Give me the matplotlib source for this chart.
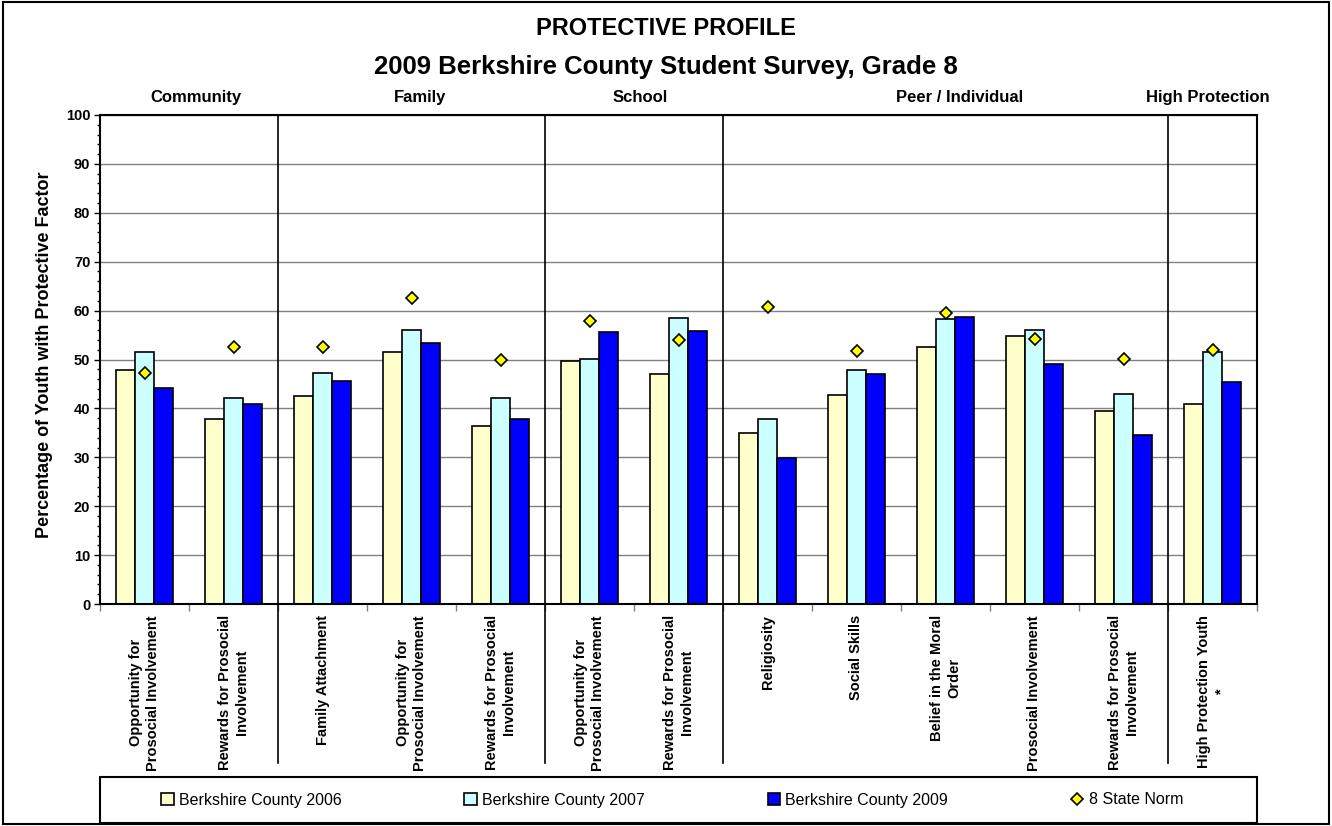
import matplotlib
matplotlib.use("Agg")
import matplotlib.pyplot as plt
from matplotlib.lines import Line2D
from matplotlib.patches import Patch, Rectangle
import numpy as np

plt.rcParams['font.family'] = ['Liberation Sans', 'DejaVu Sans']

labels = ["Opportunity for\nProsocial Involvement",
          "Rewards for Prosocial\nInvolvement",
          "Family Attachment",
          "Opportunity for\nProsocial Involvement",
          "Rewards for Prosocial\nInvolvement",
          "Opportunity for\nProsocial Involvement",
          "Rewards for Prosocial\nInvolvement",
          "Religiosity",
          "Social Skills",
          "Belief in the Moral\nOrder",
          "Prosocial Involvement",
          "Rewards for Prosocial\nInvolvement",
          "High Protection Youth\n*"]

groups = ["Community", "Family", "School", "Peer / Individual", "High Protection"]
group_sizes = [2, 3, 2, 5, 1]

y2006 = [47.9, 37.8, 42.6, 51.6, 36.5, 49.6, 47.1, 35.0, 42.7, 52.6, 54.8, 39.5, 40.8]
y2007 = [51.6, 42.1, 47.3, 56.0, 42.2, 50.2, 58.5, 37.8, 47.8, 58.3, 56.1, 42.9, 51.5]
y2009 = [44.2, 41.0, 45.7, 53.3, 37.9, 55.6, 55.9, 29.9, 47.1, 58.6, 49.0, 34.6, 45.4]
norm = [47.2, 52.6, 52.6, 62.5, 49.8, 57.8, 53.9, 60.7, 51.8, 59.6, 54.2, 50.1, 51.9]

series = ["Berkshire County 2006", "Berkshire County 2007", "Berkshire County 2009"]
colors = ["#FFFFCC", "#CCFFFF", "#0000FF"]

fig = plt.figure(figsize=(13.32, 8.26), dpi=100)
ax = fig.add_axes([100/1332, 1-604/826, 1157/1332, 489/826])

x = np.arange(len(labels))
w = 0.214
for k, vals in enumerate([y2006, y2007, y2009]):
    ax.bar(x + (k-1)*w, vals, w, color=colors[k], edgecolor='black', linewidth=1.2, zorder=3)
ax.plot(x, norm, linestyle='none', marker='D', markersize=6.5, markerfacecolor='#FFFF00',
        markeredgecolor='black', markeredgewidth=1.2, zorder=4)

ax.set_xlim(-0.5, len(labels)-0.5)
ax.set_ylim(0, 100)
ax.set_yticks(range(0, 101, 10))
ax.set_yticks(range(0, 101, 2), minor=True)
ax.yaxis.grid(True, which='major', color='#808080', linewidth=1.0, zorder=0)
ax.tick_params(axis='y', which='major', length=4, width=1, pad=3, labelsize=10.5)
ax.tick_params(axis='y', which='minor', length=2.5, width=1)
for t in ax.get_yticklabels():
    t.set_fontweight('bold')

ax.set_xticks(x)
ax.set_xticklabels(labels, rotation=90, fontsize=10.5, fontweight='bold',
                   multialignment='center', linespacing=1.3)
ax.set_xticks(np.arange(-0.5, len(labels), 1.0), minor=True)
ax.tick_params(axis='x', which='major', length=0, pad=8)
ax.tick_params(axis='x', which='minor', length=5, width=1, color='#808080')

for s in ax.spines.values():
    s.set_linewidth(1.5)
    s.set_zorder(5)

# group dividers
bounds = np.cumsum(group_sizes)[:-1]
for b in bounds:
    ax.add_line(Line2D([b-0.5, b-0.5], [-0.325, 1.0], transform=ax.get_xaxis_transform(),
                       color='black', linewidth=1.2, clip_on=False, zorder=5))

# group headings
group_x = [196, 420, 640, 960, 1208]
for g, gx in zip(groups, group_x):
    fig.text(gx/1332, 1-102/826, g, ha='center', va='baseline', fontsize=12, fontweight='bold')

fig.text(666/1332, 1-35/826, "PROTECTIVE PROFILE", ha='center', va='baseline',
         fontsize=17, fontweight='bold')
fig.text(666/1332, 1-74/826, "2009 Berkshire County Student Survey, Grade 8", ha='center',
         va='baseline', fontsize=18.5, fontweight='bold')
fig.text(45/1332, 1-355/826, "Percentage of Youth with Protective Factor", rotation=90,
         ha='center', va='center', fontsize=13, fontweight='bold')

# legend
handles = [Patch(facecolor=c, edgecolor='black', linewidth=1.2) for c in colors]
handles.append(Line2D([], [], linestyle='none', marker='D', markersize=6.5,
                      markerfacecolor='#FFFF00', markeredgecolor='black', markeredgewidth=1.2))
fig.legend(handles, series + ["8 State Norm"], loc='center', bbox_to_anchor=(672/1332, 1-800/826),
           ncol=4, frameon=False, fontsize=11.5, handlelength=0.8, handleheight=0.8,
           handletextpad=0.3, columnspacing=7.7)
fig.patches.append(Rectangle((100/1332, 1-823/826), 1157/1332, 46/826, transform=fig.transFigure,
                             fill=False, edgecolor='black', linewidth=1.5))
fig.patches.append(Rectangle((0.002, 0.002), 0.996, 0.996, transform=fig.transFigure,
                             fill=False, edgecolor='black', linewidth=1.5))

fig.savefig("out.png", dpi=100)
